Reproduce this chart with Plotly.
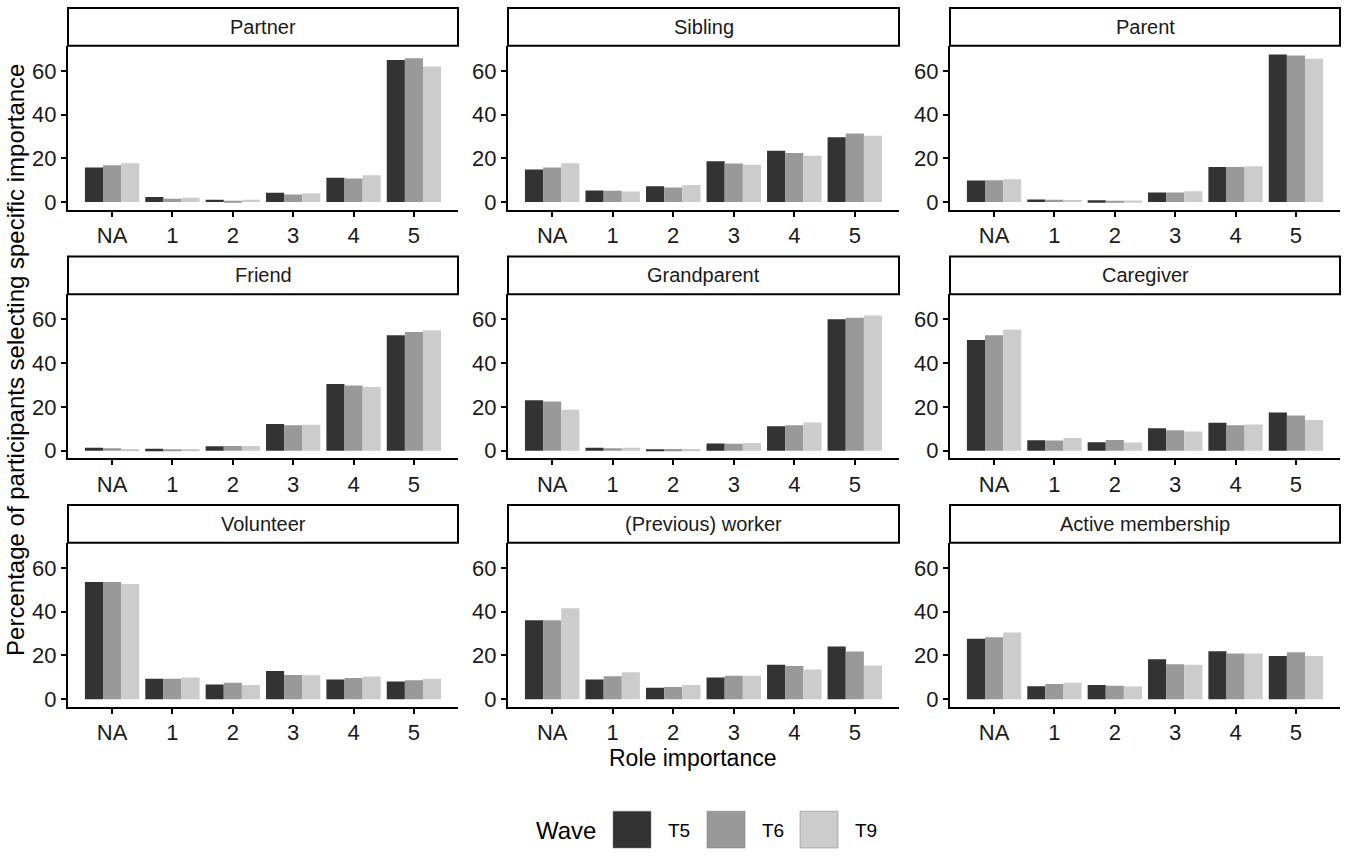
import plotly.graph_objects as go

# ---------------- data ----------------
categories = ["NA", "1", "2", "3", "4", "5"]
waves = ["T5", "T6", "T9"]
wave_colors = ["#333333", "#999999", "#CCCCCC"]
roles = ["Partner", "Sibling", "Parent",
         "Friend", "Grandparent", "Caregiver",
         "Volunteer", "(Previous) worker", "Active membership"]

partner_T5 = [15.8, 2.3, 1.1, 4.3, 11.1, 65.0]
partner_T6 = [16.8, 1.5, 0.6, 3.5, 10.8, 65.8]
partner_T9 = [17.8, 2.0, 1.1, 4.1, 12.3, 62.0]

sibling_T5 = [14.9, 5.3, 7.2, 18.7, 23.5, 29.7]
sibling_T6 = [15.8, 5.2, 6.7, 17.7, 22.4, 31.4]
sibling_T9 = [17.8, 4.9, 7.8, 17.1, 21.2, 30.3]

parent_T5 = [9.9, 1.2, 0.8, 4.4, 16.0, 67.5]
parent_T6 = [10.0, 1.1, 0.6, 4.4, 16.0, 67.0]
parent_T9 = [10.5, 1.0, 0.7, 5.0, 16.4, 65.6]

friend_T5 = [1.3, 0.9, 2.0, 12.2, 30.5, 52.8]
friend_T6 = [1.1, 0.5, 2.1, 11.6, 29.8, 54.2]
friend_T9 = [0.8, 0.7, 2.1, 11.8, 29.1, 55.0]

grandparent_T5 = [23.1, 1.3, 0.5, 3.3, 11.1, 60.1]
grandparent_T6 = [22.5, 1.1, 0.7, 3.2, 11.6, 60.8]
grandparent_T9 = [18.7, 1.3, 0.7, 3.5, 12.9, 61.8]

caregiver_T5 = [50.6, 4.7, 3.8, 10.2, 12.8, 17.4]
caregiver_T6 = [52.8, 4.6, 4.9, 9.3, 11.6, 16.1]
caregiver_T9 = [55.3, 5.8, 3.7, 8.8, 11.9, 14.0]

volunteer_T5 = [53.6, 9.4, 6.7, 12.9, 9.0, 8.1]
volunteer_T6 = [53.6, 9.3, 7.5, 11.1, 9.7, 8.7]
volunteer_T9 = [52.7, 9.9, 6.5, 11.0, 10.4, 9.4]

worker_T5 = [36.1, 9.0, 5.2, 9.9, 15.8, 24.1]
worker_T6 = [36.1, 10.5, 5.6, 10.7, 15.2, 21.8]
worker_T9 = [41.6, 12.3, 6.5, 10.7, 13.6, 15.4]

membership_T5 = [27.6, 5.9, 6.5, 18.3, 21.9, 19.8]
membership_T6 = [28.3, 7.0, 6.2, 16.0, 20.9, 21.5]
membership_T9 = [30.5, 7.5, 5.8, 15.7, 20.9, 19.8]

y_ticks = [0, 20, 40, 60]

role_values = [
    [partner_T5, partner_T6, partner_T9],
    [sibling_T5, sibling_T6, sibling_T9],
    [parent_T5, parent_T6, parent_T9],
    [friend_T5, friend_T6, friend_T9],
    [grandparent_T5, grandparent_T6, grandparent_T9],
    [caregiver_T5, caregiver_T6, caregiver_T9],
    [volunteer_T5, volunteer_T6, volunteer_T9],
    [worker_T5, worker_T6, worker_T9],
    [membership_T5, membership_T6, membership_T9],
]

# ---------------- layout geometry (pixels) ----------------
W, H = 1350, 856
FONT = "Liberation Sans, Arial, sans-serif"
col_px = [(68, 458), (508, 899), (950, 1340)]
row_px = [(46, 211), (296, 461), (546, 711)]  # panel top, bottom
strip_h = 38


def px(x):
    return x / W


def py(y):
    return 1 - y / H


fig = go.Figure()
layout_axes = {}
shapes = []
annotations = []

for i, role in enumerate(roles):
    r, c = divmod(i, 3)
    n = i + 1
    xa = "x" if n == 1 else f"x{n}"
    ya = "y" if n == 1 else f"y{n}"
    for w, wave in enumerate(waves):
        fig.add_trace(go.Bar(
            x=categories, y=role_values[i][w], name=wave,
            marker=dict(color=wave_colors[w], line=dict(width=0)),
            xaxis=xa, yaxis=ya, showlegend=False,
            offsetgroup=wave,
        ))
    x0, x1 = col_px[c]
    y0, y1 = row_px[r]
    xkey = "xaxis" if n == 1 else f"xaxis{n}"
    ykey = "yaxis" if n == 1 else f"yaxis{n}"
    layout_axes[xkey] = dict(
        domain=[px(x0), px(x1)], anchor=ya, type="category",
        categoryorder="array", categoryarray=categories,
        range=[-0.73, 5.73], showline=True, linecolor="black", linewidth=2,
        ticks="outside", ticklen=5, tickwidth=2, tickcolor="black",
        tickfont=dict(family=FONT, size=22, color="#1a1a1a"),
        showgrid=False, zeroline=False,
    )
    layout_axes[ykey] = dict(
        domain=[py(y1), py(y0)], anchor=xa, range=[-3.5, 71.5],
        tickvals=y_ticks, showline=True, linecolor="black", linewidth=2,
        ticks="outside", ticklen=5, tickwidth=2, tickcolor="black",
        tickfont=dict(family=FONT, size=22, color="#1a1a1a"),
        showgrid=False, zeroline=False,
    )
    # strip
    shapes.append(dict(type="rect", xref="paper", yref="paper",
                       x0=px(x0), x1=px(x1), y0=py(y0), y1=py(y0 - strip_h),
                       fillcolor="white", line=dict(color="black", width=2)))
    annotations.append(dict(text=role, xref="paper", yref="paper",
                            x=px((x0 + x1) / 2), y=py(y0 - strip_h / 2),
                            showarrow=False, xanchor="center", yanchor="middle",
                            font=dict(family=FONT, size=20, color="#1a1a1a")))

# axis titles
annotations.append(dict(text="Role importance", xref="paper", yref="paper",
                        x=px(692), y=py(762), showarrow=False,
                        xanchor="center", yanchor="middle",
                        font=dict(family=FONT, size=23, color="black")))
annotations.append(dict(text="Percentage of participants selecting specific importance",
                        xref="paper", yref="paper", x=px(16), y=py(362),
                        showarrow=False, textangle=-90,
                        xanchor="center", yanchor="middle",
                        font=dict(family=FONT, size=24, color="black")))

# legend (drawn manually to get large keys)
annotations.append(dict(text="Wave", xref="paper", yref="paper",
                        x=px(598), y=py(835), showarrow=False,
                        xanchor="right", yanchor="middle",
                        font=dict(family=FONT, size=24, color="black")))
key_x = [613, 707, 800]
for w, wave in enumerate(waves):
    kx = key_x[w]
    shapes.append(dict(type="rect", xref="paper", yref="paper",
                       x0=px(kx), x1=px(kx + 38), y0=py(853), y1=py(816),
                       fillcolor=wave_colors[w], line=dict(color="#777777", width=0.5)))
    annotations.append(dict(text=wave, xref="paper", yref="paper",
                            x=px(kx + 53), y=py(835), showarrow=False,
                            xanchor="left", yanchor="middle",
                            font=dict(family=FONT, size=19, color="black")))

fig.update_layout(
    width=W, height=H,
    margin=dict(l=0, r=0, t=0, b=0),
    paper_bgcolor="white", plot_bgcolor="white",
    barmode="group", bargap=0.1, bargroupgap=0,
    showlegend=False,
    shapes=shapes, annotations=annotations,
    **layout_axes,
)

fig.write_html("out.html")
